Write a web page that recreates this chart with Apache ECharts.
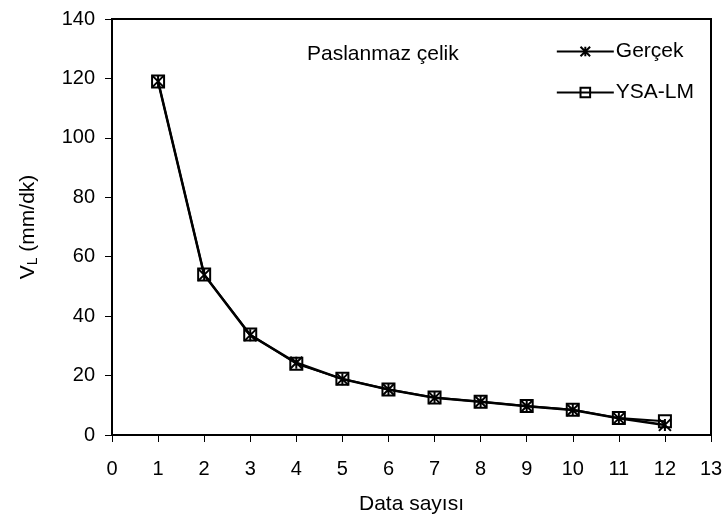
<!DOCTYPE html>
<html><head><meta charset="utf-8">
<script src="https://cdn.jsdelivr.net/npm/echarts@6/dist/echarts.min.js"></script>
<style>html,body{margin:0;padding:0;background:#fff}#c{width:727px;height:524px}</style>
</head><body><div id="c"></div>
<script>
const xValues = [1,2,3,4,5,6,7,8,9,10,11,12];
const gercek = [119,53.9,33.6,24.3,18.8,15.3,12.5,11.2,9.7,8.4,5.6,3.4];
const ysaLm  = [119,54.0,33.8,24.0,18.9,15.3,12.6,11.2,9.8,8.5,5.7,4.6];
const xTicks = {min:0, max:13, interval:1};
const yTicks = {min:0, max:140, interval:20};

const FONT = 'Liberation Sans';
const FS = 20;
const FT = 21;
const star = 'path://M0,0L10,10M10,0L0,10M5,0L5,10';
const chart = echarts.init(document.getElementById('c'));
chart.setOption({
  animation:false,
  textStyle:{fontFamily:FONT},
  grid:{left:112,right:16,top:19,bottom:89,show:true,borderColor:'#000',borderWidth:2},
  title:{text:'Paslanmaz çelik',left:302,top:39,textStyle:{fontFamily:FONT,fontSize:FT,fontWeight:'normal',color:'#000'}},
  legend:{right:28,top:36,orient:'vertical',itemGap:20,itemWidth:57,itemHeight:12,
    textStyle:{fontFamily:FONT,fontSize:FT,color:'#000',padding:[0,0,0,-3]},
    data:['Gerçek','YSA-LM']},
  xAxis:{type:'value',min:xTicks.min,max:xTicks.max,interval:xTicks.interval,
    name:'Data sayısı',nameLocation:'middle',nameGap:59,
    nameTextStyle:{fontFamily:FONT,fontSize:FT,color:'#000'},
    axisLine:{lineStyle:{color:'#000',width:2}},
    axisTick:{show:true,length:7,lineStyle:{color:'#000'}},
    axisLabel:{color:'#000',fontSize:FS,fontFamily:FONT,margin:24},
    splitLine:{show:false}},
  yAxis:{type:'value',min:yTicks.min,max:yTicks.max,interval:yTicks.interval,
    name:'{a|V}{b|L}{a| (mm/dk)}',nameLocation:'middle',nameGap:72,nameRotate:90,
    nameTextStyle:{fontFamily:FONT,fontSize:FT,color:'#000',
      rich:{a:{fontFamily:FONT,fontSize:FT,color:'#000'},b:{fontFamily:FONT,fontSize:14,color:'#000',verticalAlign:'bottom',padding:[10,0,0,0]}}},
    axisLine:{show:true,lineStyle:{color:'#000',width:2}},
    axisTick:{show:true,length:7,lineStyle:{color:'#000'}},
    axisLabel:{color:'#000',fontSize:FS,fontFamily:FONT,margin:17},
    splitLine:{show:false}},
  series:[
    {name:'Gerçek',type:'line',data:xValues.map((x,i)=>[x,gercek[i]]),
     symbol:star,symbolSize:12,showAllSymbol:true,
     lineStyle:{color:'#000',width:2.5},
     itemStyle:{color:'none',borderColor:'#000',borderWidth:2}},
    {name:'YSA-LM',type:'line',data:xValues.map((x,i)=>[x,ysaLm[i]]),
     symbol:'rect',symbolSize:12,showAllSymbol:true,
     lineStyle:{color:'#000',width:2},
     itemStyle:{color:'rgba(0,0,0,0)',borderColor:'#000',borderWidth:2}}
  ]
});
</script></body></html>
